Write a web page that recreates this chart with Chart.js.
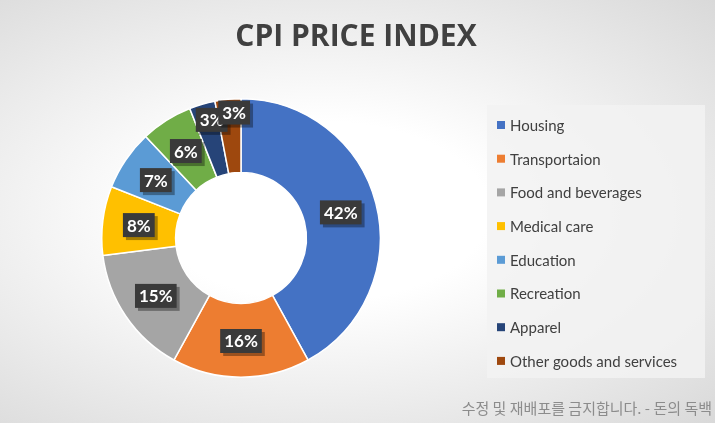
<!DOCTYPE html>
<html><head><meta charset="utf-8">
<script src="https://cdn.jsdelivr.net/npm/chart.js@4"></script>
<style>
html,body{margin:0;padding:0;}
body{width:715px;height:423px;background:radial-gradient(ellipse at 45% 50%,#ffffff 30%,#d9d9d9 100%);overflow:hidden;}
#wrap{position:absolute;left:0;top:0;width:715px;height:423px;}
</style></head><body>
<div id="wrap"><canvas id="c" width="715" height="423"></canvas></div>
<script>
const categories=["Housing","Transportaion","Food and beverages","Medical care","Education","Recreation","Apparel","Other goods and services"];
const values=[42,16,15,8,7,6,3,3];
const colors=["#4472C4","#ED7D31","#A5A5A5","#FFC000","#5B9BD5","#70AD47","#264478","#9E480E"];
const labelRadius=[103,103,103,103,103,103,123,126];

const deco={id:'deco',
afterDraw(chart){
 const ctx=chart.ctx;
 ctx.save();
 ctx.fillStyle='#404040';ctx.font='bold 30px "Open Sans", "Liberation Sans", sans-serif';
 ctx.textAlign='center';ctx.textBaseline='middle';
 ctx.fillText('CPI PRICE INDEX',356,37);
 ctx.fillStyle='rgba(242,242,242,0.85)';ctx.fillRect(487,105,218,273);
 ctx.font='15px Lato, "Open Sans", sans-serif';ctx.textAlign='left';
 categories.forEach((c,i)=>{const y=125+i*33.7;ctx.fillStyle=colors[i];ctx.fillRect(497,y-4,8,8);
  ctx.fillStyle='#404040';ctx.fillText(c,510,y+1);});
 const meta=chart.getDatasetMeta(0);
 ctx.font='bold 17px Lato, "Open Sans", sans-serif';ctx.textAlign='center';
 meta.data.forEach((arc,i)=>{
  const a=(arc.startAngle+arc.endAngle)/2;const r=labelRadius[i];
  let x=arc.x+Math.cos(a)*r,y=arc.y+Math.sin(a)*r;
  if(i>=6)x+=5;
  const t=values[i]+'%';const w=ctx.measureText(t).width+8,h=24;
  ctx.fillStyle='rgba(0,0,0,0.35)';ctx.fillRect(x-w/2+3,y-h/2+3,w,h);
  ctx.fillStyle='#3a3a3a';ctx.fillRect(x-w/2,y-h/2,w,h);
  ctx.fillStyle='#ffffff';ctx.fillText(t,x,y+1);
 });
 ctx.font='15px "Noto Sans CJK KR", sans-serif';ctx.textAlign='right';ctx.fillStyle='#8c8c8c';
 ctx.fillText('수정 및 재배포를 금지합니다. - 돈의 독백',712,408);
 ctx.restore();
}};
new Chart(document.getElementById('c'),{type:'doughnut',
data:{labels:categories,datasets:[{data:values,backgroundColor:colors,borderColor:'#ffffff',borderWidth:1.5}]},
options:{responsive:false,animation:false,cutout:'47%',
layout:{padding:{top:98,bottom:45,left:101,right:334}},
plugins:{legend:{display:false},tooltip:{enabled:false}}},
plugins:[deco]});
</script></body></html>
